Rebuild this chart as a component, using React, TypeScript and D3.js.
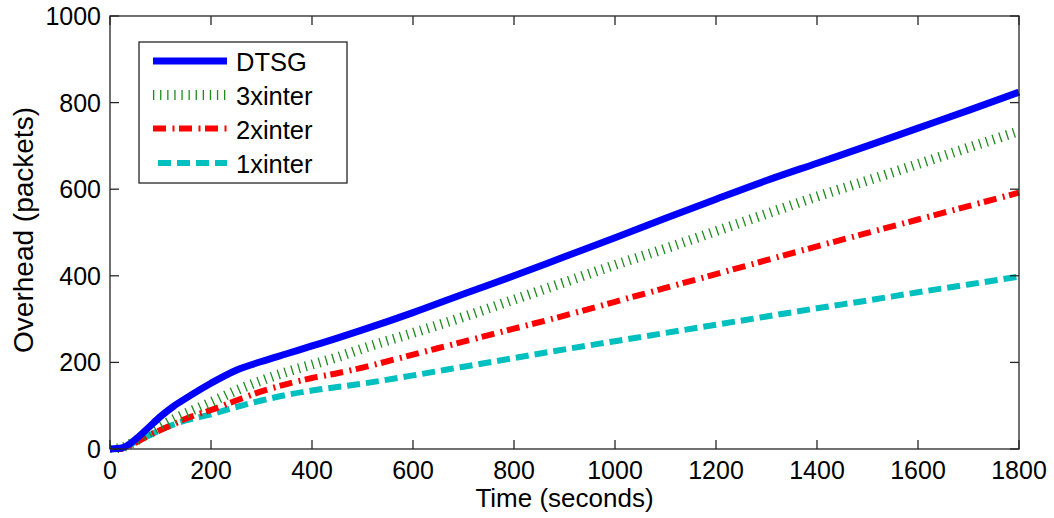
import React from "react";
import * as d3 from "d3";

const timeDTSG = [0, 25, 50, 75, 100, 125, 150, 200, 250, 300, 350, 400, 450, 500, 600, 700, 800, 900, 1000, 1100, 1200, 1300, 1400, 1500, 1600, 1700, 1800];
const dtsg = [0, 3, 22, 48, 75, 98, 117, 152, 182, 202, 220, 238, 256, 275, 315, 358, 400, 444, 488, 533, 577, 620, 660, 700, 741, 782, 824];

const time3x = [0, 25, 50, 75, 100, 125, 150, 200, 250, 300, 350, 400, 450, 500, 600, 700, 800, 900, 1000, 1100, 1200, 1300, 1400, 1500, 1600, 1700, 1800];
const inter3x = [0, 4, 18, 35, 52, 68, 82, 108, 135, 158, 178, 195, 212, 232, 268, 305, 345, 385, 425, 463, 503, 543, 583, 620, 658, 696, 734];

const time2x = [0, 20, 40, 50, 75, 100, 125, 150, 200, 250, 300, 350, 400, 450, 500, 600, 700, 800, 900, 1000, 1100, 1200, 1300, 1400, 1500, 1600, 1700, 1800];
const inter2x = [0, 0, 8, 14, 30, 44, 57, 70, 90, 112, 133, 150, 164, 175, 188, 218, 248, 278, 308, 340, 372, 404, 436, 468, 499, 530, 561, 592];

const time1x = [0, 25, 40, 50, 75, 100, 125, 150, 200, 250, 300, 350, 400, 450, 500, 600, 700, 800, 900, 1000, 1100, 1200, 1300, 1400, 1500, 1600, 1700, 1800];
const inter1x = [0, 2, 10, 16, 30, 44, 56, 66, 80, 97, 112, 125, 135, 143, 151, 170, 190, 210, 230, 249, 268, 287, 306, 325, 343, 362, 380, 398];

const xTicks = [0, 200, 400, 600, 800, 1000, 1200, 1400, 1600, 1800];
const yTicks = [0, 200, 400, 600, 800, 1000];

const seriesNames = ["DTSG", "3xinter", "2xinter", "1xinter"];

const W = 1054;
const H = 518;
const L = 110;
const R = 1019;
const T = 16;
const B = 449;
const FONT = "'Liberation Sans', Arial, Helvetica, sans-serif";
const AX = "#262626";

const styles = [
  { color: "#0000ff", width: 7, dash: undefined as string | undefined },
  { color: "#1e8c1e", width: 10, dash: "1.3 5.8" },
  { color: "#ff0000", width: 6, dash: "13 6.5 2 4.5" },
  { color: "#00bfbf", width: 6, dash: "13 6" },
];

export default function App() {
  const x = d3.scaleLinear().domain([0, 1800]).range([L, R]);
  const y = d3.scaleLinear().domain([0, 1000]).range([B, T]);
  const line = d3
    .line<[number, number]>()
    .x((d) => x(d[0]))
    .y((d) => y(d[1]))
    .curve(d3.curveMonotoneX);

  const data: [number, number][][] = [
    timeDTSG.map((t, i) => [t, dtsg[i]]),
    time3x.map((t, i) => [t, inter3x[i]]),
    time2x.map((t, i) => [t, inter2x[i]]),
    time1x.map((t, i) => [t, inter1x[i]]),
  ];

  const tickLen = 9;
  const legX = 139;
  const legY = 42;
  const legW = 208;
  const legH = 141;
  const legRows = [61, 95, 128.5, 163];

  return (
    <svg
      width={W}
      height={H}
      style={{ position: "absolute", left: 0, top: 0, background: "#fff" }}
      fontFamily={FONT}
    >
      <rect x={0} y={0} width={W} height={H} fill="#fff" />
      <defs>
        <clipPath id="plotClip">
          <rect x={L - 4} y={T} width={R - L + 8} height={B - T + 4} />
        </clipPath>
      </defs>

      <g clipPath="url(#plotClip)">
        {[3, 2, 1, 0].map((i) => (
          <path
            key={seriesNames[i]}
            d={line(data[i]) || ""}
            fill="none"
            stroke={styles[i].color}
            strokeWidth={styles[i].width}
            strokeDasharray={styles[i].dash}
            strokeLinejoin="round"
          />
        ))}
      </g>

      <rect x={L} y={T} width={R - L} height={B - T} fill="none" stroke={AX} strokeWidth={1.3} />

      {xTicks.map((t) => (
        <g key={"x" + t}>
          <line x1={x(t)} x2={x(t)} y1={B} y2={B - tickLen} stroke={AX} strokeWidth={1.3} />
          <line x1={x(t)} x2={x(t)} y1={T} y2={T + tickLen} stroke={AX} strokeWidth={1.3} />
          <text x={x(t)} y={479} fontSize={25} textAnchor="middle" fill="#000">
            {t}
          </text>
        </g>
      ))}

      {yTicks.map((t) => (
        <g key={"y" + t}>
          <line x1={L} x2={L + tickLen} y1={y(t)} y2={y(t)} stroke={AX} strokeWidth={1.3} />
          <line x1={R} x2={R - tickLen} y1={y(t)} y2={y(t)} stroke={AX} strokeWidth={1.3} />
          <text x={101} y={y(t) + 9} fontSize={25} textAnchor="end" fill="#000">
            {t}
          </text>
        </g>
      ))}

      <text x={(L + R) / 2} y={507} fontSize={26} textAnchor="middle" fill="#000">
        Time (seconds)
      </text>
      <text
        transform={`translate(33, 230) rotate(-90)`}
        fontSize={28}
        textAnchor="middle"
        fill="#000"
      >
        Overhead (packets)
      </text>

      <rect x={legX} y={legY} width={legW} height={legH} fill="#fff" stroke={AX} strokeWidth={1.3} />
      {seriesNames.map((name, i) => (
        <g key={"leg" + name}>
          <line
            x1={i === 3 ? 158 : 153}
            x2={227}
            y1={legRows[i]}
            y2={legRows[i]}
            stroke={styles[i].color}
            strokeWidth={styles[i].width}
            strokeDasharray={styles[i].dash}
          />
          <text x={236} y={legRows[i] + 10} fontSize={25.5} fill="#000">
            {name}
          </text>
        </g>
      ))}
    </svg>
  );
}
